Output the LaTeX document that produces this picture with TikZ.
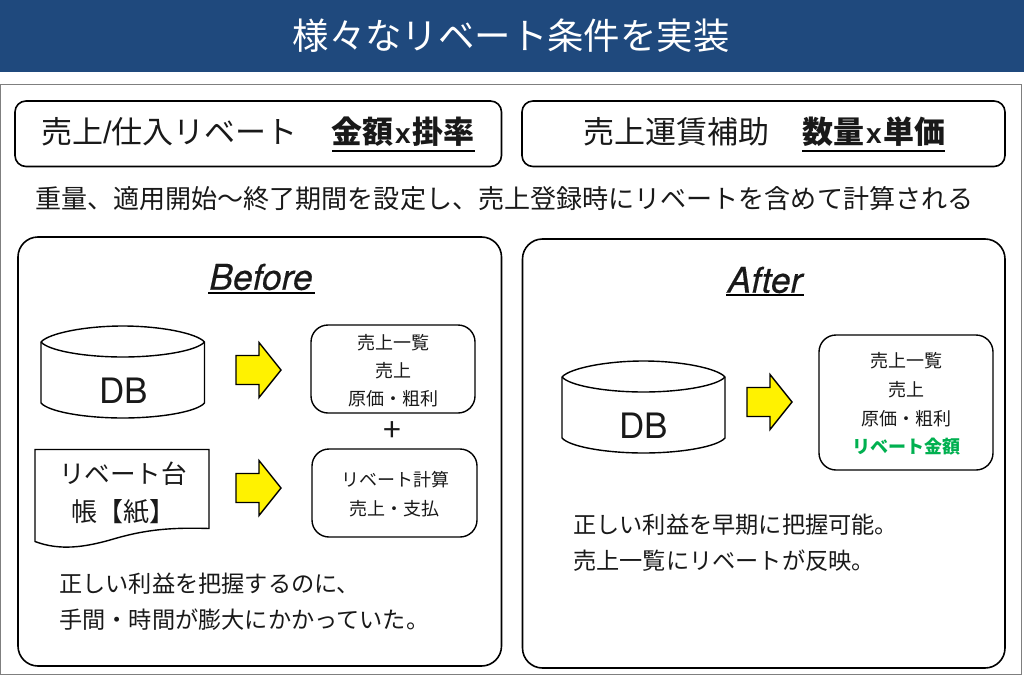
\documentclass[tikz,border=0pt]{standalone}
\usepackage{fontspec}
\setmainfont{Noto Sans CJK JP}
\newfontfamily\latin{TeX Gyre Heros}
\newfontfamily\latinb[FakeBold=0.35]{TeX Gyre Heros}
\newfontfamily\slashfont{Liberation Sans}
\definecolor{band}{HTML}{1F497D}
\definecolor{framegray}{HTML}{7F7F7F}
\definecolor{rebgreen}{HTML}{00B050}
\newcommand{\fs}[1]{\fontsize{#1pt}{#1pt}\selectfont}
\newcommand{\timesx}{\hspace{2pt}{\slashfont\fs{28}\bfseries x}\hspace{2pt}}
\tikzset{
  x=1pt,y=-1pt,
  panel/.style={draw=black,line width=1.6pt,fill=white},
  shapeline/.style={draw=black,line width=1.4pt,fill=white},
  blockarrow/.style={draw=black,line width=1.4pt,fill=yellow,line join=miter},
  txt/.style={inner sep=0pt,text=black!90,anchor=center},
  small/.style={txt,font=\fs{18}},
  rule/.style={black,line width=1.4pt},
}
\newcommand{\dbshape}[3]{% left x, top-center y, right x
  \draw[shapeline] (#1,#2) -- (#1,#2+61) .. controls (#1+8,#2+70) and (#1+45,#2+76) .. ({(#1+#3)/2},#2+76) .. controls (#3-45,#2+76) and (#3-8,#2+70) .. (#3,#2+61) -- (#3,#2) .. controls (#3-8,#2-9) and (#3-45,#2-16) .. ({(#1+#3)/2},#2-16) .. controls (#1+45,#2-16) and (#1+8,#2-9) .. (#1,#2) -- cycle;
  \draw[shapeline,fill=none] (#1,#2) .. controls (#1+8,#2+9) and (#1+45,#2+15) .. ({(#1+#3)/2},#2+15) .. controls (#3-45,#2+15) and (#3-8,#2+9) .. (#3,#2);
}
\newcommand{\yarrow}[2]{% left x, center y
  \draw[blockarrow] (#1,#2-14.5) -- (#1+23,#2-14.5) -- (#1+23,#2-27.5) -- (#1+45,#2) -- (#1+23,#2+27.5) -- (#1+23,#2+14.5) -- (#1,#2+14.5) -- cycle;
}
\begin{document}
\begin{tikzpicture}
\useasboundingbox (0,0) rectangle (1024,674);
\fill[white] (0,0) rectangle (1024,674);
\fill[band] (0,0) rectangle (1024,72);
\node[inner sep=0pt,text=white,font=\fs{36.4}] (title) at (511,36) {様々なリベート条件を実装};
\draw[framegray,line width=1pt] (0.5,85) rectangle (1021,674);
% top boxes
\draw[panel,rounded corners=11pt] (15,101) rectangle (501.5,166.5);
\draw[panel,rounded corners=11pt] (522,101) rectangle (1005,166.5);
\node[txt,font=\fs{31},anchor=west] (t1) at (41,132) {売上{\slashfont /}仕入リベート};
\node[txt,font=\fs{31}\bfseries,anchor=west] (t2) at (331,132) {金額\timesx 掛率};
\draw[rule] (332,151) -- (475,151);
\node[txt,font=\fs{31},anchor=west] (t3) at (583,132) {売上運賃補助};
\node[txt,font=\fs{31}\bfseries,anchor=west] (t4) at (802,132) {数量\timesx 単価};
\draw[rule] (802,151) -- (945,151);
\node[txt,font=\fs{26.06},anchor=west] (desc) at (35,199) {重量、適用開始～終了期間を設定し、売上登録時にリベートを含めて計算される};
% panels
\draw[panel,rounded corners=20pt] (18,237) rectangle (501.5,666);
\draw[panel,rounded corners=20pt] (522.5,239) rectangle (1005,668);
\node[txt,font={\latinb\fs{35.5}\itshape}] (before) at (261,277) {Before};
\draw[rule] (208,293) -- (315,293);
\node[txt,font={\latinb\fs{35.5}\itshape}] (after) at (765,280) {After};
\draw[rule] (726,295) -- (804,295);
% DBs
\dbshape{41}{342}{204.5}
\node[txt,font={\latin\fs{35}}] (db1) at (123.5,391) {DB};
\dbshape{562}{377}{725}
\node[txt,font={\latin\fs{35}}] (db2) at (643.5,426) {DB};
% arrows
\yarrow{236}{370}
\yarrow{236}{488}
\yarrow{747}{402}
% result boxes
\draw[shapeline,rounded corners=17pt] (311,325) rectangle (475,413);
\node[small] (a1) at (393,342.7) {売上一覧};
\node[small] (a2) at (393,370.7) {売上};
\node[small] (a3) at (393,398.7) {原価・粗利};
\node[txt,font=\fs{32}] (plus) at (392.500,432) {+};
\draw[shapeline,rounded corners=17pt] (312,449) rectangle (477,537);
\node[small] (b1) at (395,479.7) {リベート計算};
\node[small] (b2) at (394,508.7) {売上・支払};
\draw[shapeline,rounded corners=17pt] (819,335) rectangle (993,470);
\node[small] (c1) at (906,360.7) {売上一覧};
\node[small] (c2) at (906,389.7) {売上};
\node[small] (c3) at (906,418.7) {原価・粗利};
\node[txt,font=\fs{18}\bfseries,text=rebgreen] (c4) at (906,446.7) {リベート金額};
% paper
\draw[shapeline] (35,449.5) -- (209,449.5) -- (209,528.5) .. controls (165,527) and (140,531) .. (110,540) .. controls (85,547) and (60,551) .. (35,541.5) -- cycle;
\node[txt,font=\fs{25.6}] (p1) at (123,474) {リベート台};
\node[txt,font=\fs{26},anchor=west] (p2) at (71,512) {帳【紙】};
% notes
\node[txt,font=\fs{23.2},anchor=west] (n1) at (59,584) {正しい利益を把握するのに、};
\node[txt,font=\fs{23.2},anchor=west] (n2) at (59,620) {手間・時間が膨大にかかっていた。};
\node[txt,font=\fs{23.2},anchor=west] (n3) at (573,525) {正しい利益を早期に把握可能。};
\node[txt,font=\fs{23.2},anchor=west] (n4) at (573,561) {売上一覧にリベートが反映。};
\end{tikzpicture}
\end{document}
